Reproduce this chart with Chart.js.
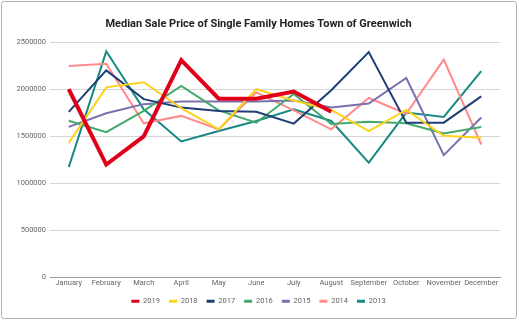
<!DOCTYPE html>
<html>
<head>
<meta charset="utf-8">
<script src="https://cdn.jsdelivr.net/npm/chart.js@4/dist/chart.umd.min.js"></script>
<style>
  html, body { margin: 0; padding: 0; background: #fff; }
  #wrap { position: relative; width: 519px; height: 324px; }
  #frame {
    position: absolute; left: 1px; top: 1px; width: 514px; height: 316px;
    border: 1px solid #b5b5b5; border-radius: 3px; pointer-events: none;
  }
  canvas { position: absolute; left: 0; top: 0; }
</style>
</head>
<body>
<div id="wrap">
  <canvas id="c" width="519" height="324"></canvas>
  <div id="frame"></div>
</div>
<script>
const months = ['January', 'February', 'March', 'April', 'May', 'June', 'July',
  'August', 'September', 'October', 'November', 'December'];

const sales2019 = [2000000, 1200000, 1500000, 2310000, 1900000, 1900000, 1975000, 1760000, null, null, null, null];
const sales2018 = [1430000, 2020000, 2075000, 1800000, 1575000, 2000000, 1880000, 1780000, 1555000, 1780000, 1505000, 1485000];
const sales2017 = [1760000, 2200000, 1895000, 1805000, 1770000, 1760000, 1635000, 1990000, 2395000, 1645000, 1645000, 1925000];
const sales2016 = [1665000, 1545000, 1770000, 2035000, 1775000, 1645000, 1950000, 1630000, 1655000, 1638000, 1530000, 1600000];
const sales2015 = [1600000, 1745000, 1842000, 1870000, 1870000, 1870000, 1880000, 1806000, 1849000, 2120000, 1300000, 1700000];
const sales2014 = [2246000, 2271000, 1638000, 1717000, 1574000, 1967000, 1775000, 1574000, 1907000, 1740000, 2315000, 1413000];
const sales2013 = [1173000, 2403000, 1788000, 1445000, 1556000, 1663000, 1788000, 1663000, 1220000, 1752000, 1706000, 2192000];

const yearLabels = ['2019', '2018', '2017', '2016', '2015', '2014', '2013'];
const yearValues = [sales2019, sales2018, sales2017, sales2016, sales2015, sales2014, sales2013];
const yearColors = ['#e1001a', '#fdd21c', '#1e3e76', '#44a96d', '#7a70b0', '#ff8b8b', '#198a82'];
const yearWidths = [4, 2, 2, 2, 2, 2, 2];

const datasets = yearLabels.map((label, i) => ({
  label: label,
  data: yearValues[i],
  borderColor: yearColors[i],
  backgroundColor: yearColors[i],
  borderWidth: yearWidths[i],
  pointRadius: 0,
  pointHoverRadius: 0,
  tension: 0,
  spanGaps: false
}));

const baseFont = 'Roboto, "Noto Sans", Arial, sans-serif';

new Chart(document.getElementById('c'), {
  type: 'line',
  data: { labels: months, datasets: datasets },
  options: {
    responsive: false,
    animation: false,
    devicePixelRatio: 1,
    layout: { padding: { left: 17, right: 19, top: 0, bottom: 9 } },
    plugins: {
      title: {
        display: true,
        text: 'Median Sale Price of Single Family Homes Town of Greenwich',
        color: '#222',
        font: { family: baseFont, size: 11, weight: 'bold', lineHeight: 1.2 },
        padding: { top: 18, bottom: 11 }
      },
      legend: {
        position: 'bottom',
        labels: {
          boxWidth: 8,
          boxHeight: 3,
          padding: 9,
          color: '#666',
          font: { family: baseFont, size: 7.5 },
          generateLabels: (chart) => Chart.defaults.plugins.legend.labels.generateLabels(chart)
            .map(item => Object.assign(item, { lineWidth: 0, fillStyle: item.strokeStyle }))
        }
      },
      tooltip: { enabled: false }
    },
    scales: {
      x: {
        offset: true,
        grid: { display: false, drawTicks: false },
        border: { display: true, color: '#9a9a9a', width: 1 },
        ticks: {
          color: '#666',
          padding: 1,
          maxRotation: 0,
          autoSkip: false,
          font: { family: baseFont, size: 7.5 }
        }
      },
      y: {
        min: 0,
        max: 2500000,
        afterFit: (scale) => { scale.width = 33; },
        grid: { color: '#d6d6d6', lineWidth: 1, drawTicks: false },
        border: { display: false },
        ticks: {
          stepSize: 500000,
          color: '#666',
          padding: 4,
          font: { family: baseFont, size: 7.5 },
          callback: (v) => String(v)
        }
      }
    }
  }
});
</script>
</body>
</html>
